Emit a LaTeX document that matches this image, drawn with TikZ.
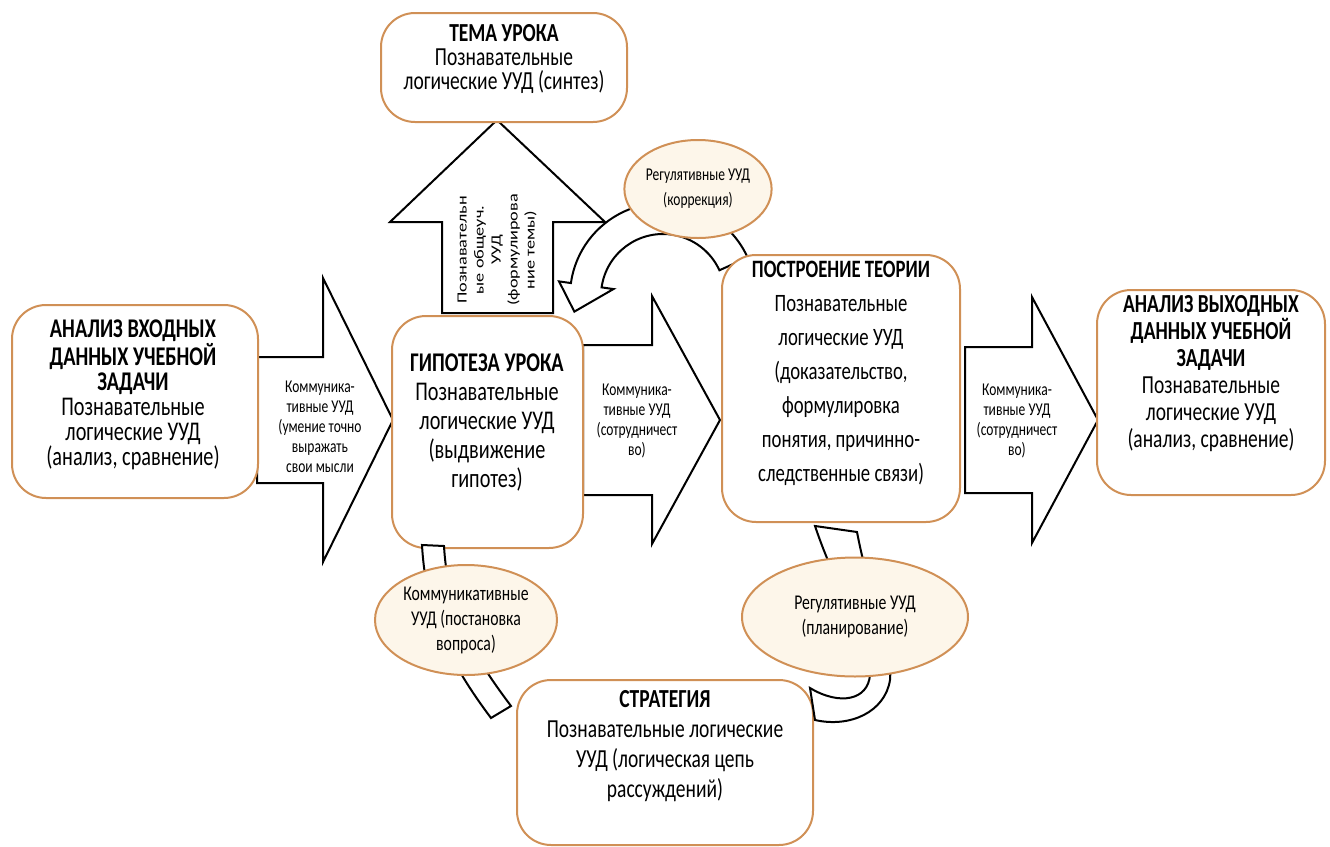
\documentclass[tikz,border=0pt]{standalone}
\usepackage{fontspec}
\setmainfont{Carlito}[FakeStretch=0.75]
\newfontfamily\widefont{Carlito}[FakeStretch=1.3]
\usetikzlibrary{shapes.geometric}
\definecolor{boxline}{RGB}{208,144,86}
\definecolor{ovalfill}{RGB}{253,246,234}
\tikzset{
    stagebox/.style={
        rectangle, rounded corners=17pt, draw=boxline, line width=1pt, fill=white
    },
    stagetext/.style={align=center, inner sep=0pt},
    udoval/.style={
        ellipse, draw=boxline, line width=1pt, fill=ovalfill, align=center, inner sep=0pt
    },
    blockarrow/.style={draw=black, line width=1pt, fill=white, line join=miter},
    arrowtext/.style={align=center, inner sep=0pt, font=\fontsize{9}{10}\selectfont},
}

\begin{document}
\begin{tikzpicture}[x=0.5pt, y=-0.5pt]
    \useasboundingbox (0,0) rectangle (1330,847);

    % Block arrows
    \draw[blockarrow] (257,357) -- (323,357) -- (323,278) -- (393,420) -- (323,562) -- (323,483) -- (257,483) -- cycle;
    \draw[blockarrow] (583,345) -- (652,345) -- (652,296) -- (720,420) -- (652,544) -- (652,495) -- (583,495) -- cycle;
    \draw[blockarrow] (965,347) -- (1032,347) -- (1032,297) -- (1098,420) -- (1032,543) -- (1032,493) -- (965,493) -- cycle;
    \draw[blockarrow] (442,313) -- (442,222) -- (390,222) -- (497,120) -- (605,222) -- (553,222) -- (553,313) -- cycle;

    % Curved arrow (correction)
    \coordinate (corrc) at (663,296);
    \draw[blockarrow] ([shift={(-24.5:93)}]corrc) arc[start angle=-24.5, end angle=-172, radius=93]
        -- ([shift={(-172:105)}]corrc) -- ([shift={(-190:90)}]corrc) -- ([shift={(-172:50)}]corrc)
        -- ([shift={(-172:62)}]corrc) arc[start angle=-172, end angle=-24.5, radius=62] -- cycle;

    % Arrow labels
    \node[arrowtext] (say) at (320,427) {Коммуника-\\тивные УУД\\(умение точно\\выражать\\свои мысли};
    \node[arrowtext] (coop1) at (637,421) {Коммуника-\\тивные УУД\\(сотрудничест\\во)};
    \node[arrowtext] (coop2) at (1017,421) {Коммуника-\\тивные УУД\\(сотрудничест\\во)};
    \node[rotate=90, align=center, inner sep=0pt, font=\widefont\fontsize{7}{8.5}\selectfont] (topicup) at (497,250)
        {Познавательн\\ые общеуч.\\УУД\\(формулирова\\ние темы)};

    % Stages
    \node[stagebox, minimum width=123pt, minimum height=96.5pt] (inbox) at (135,401.5) {};
    \node[stagebox, minimum width=123pt, minimum height=54.5pt] (topic) at (504,67.5) {};
    \node[stagebox, minimum width=95.5pt, minimum height=116pt] (hyp) at (487.5,432) {};
    \node[stagebox, minimum width=119pt, minimum height=133.5pt] (theory) at (841,388.5) {};
    \node[stagebox, minimum width=114pt, minimum height=102.5pt] (outbox) at (1211,392.5) {};
    \node[stagebox, minimum width=148pt, minimum height=82.5pt] (strategy) at (665,762.5) {};

    \node[stagetext, font=\fontsize{13.5}{12.5}\selectfont] (inbox-t) at (133,395)
        {\textbf{АНАЛИЗ ВХОДНЫХ}\\\textbf{ДАННЫХ УЧЕБНОЙ}\\\textbf{ЗАДАЧИ}\\Познавательные\\логические УУД\\(анализ, сравнение)};
    \node[stagetext, font=\fontsize{13}{12}\selectfont] (topic-t) at (504,59)
        {\textbf{ТЕМА УРОКА}\\Познавательные\\логические УУД (синтез)};
    \node[stagetext, font=\fontsize{13.5}{14.5}\selectfont] (hyp-t) at (487,423)
        {\textbf{ГИПОТЕЗА УРОКА}\\Познавательные\\логические УУД\\(выдвижение\\гипотез)};
    \node[stagetext, font=\fontsize{12.5}{17}\selectfont] (theory-t) at (841,373)
        {\textbf{ПОСТРОЕНИЕ ТЕОРИИ}\\Познавательные\\логические УУД\\(доказательство,\\формулировка\\понятия, причинно-\\следственные связи)};
    \node[stagetext, font=\fontsize{13}{13.5}\selectfont] (outbox-t) at (1211,374)
        {\textbf{АНАЛИЗ ВЫХОДНЫХ}\\\textbf{ДАННЫХ УЧЕБНОЙ}\\\textbf{ЗАДАЧИ}\\Познавательные\\логические УУД\\(анализ, сравнение)};
    \node[stagetext, font=\fontsize{13}{15}\selectfont] (strategy-t) at (665,746)
        {\textbf{СТРАТЕГИЯ}\\Познавательные логические\\УУД (логическая цепь\\рассуждений)};

    % Side bands
    \draw[blockarrow] (422,545) .. controls (426,617) and (452,666) .. (491,718) -- (511,706)
        .. controls (472,654) and (448,613) .. (444,546) -- cycle;
    \draw[blockarrow] (815,526) .. controls (840,600) and (872,640) .. (870,675)
        .. controls (868,700) and (840,706) .. (810,688) -- (815,720)
        .. controls (850,728) and (885,712) .. (890,680)
        .. controls (893,650) and (870,600) .. (857,532) -- cycle;

    % Ovals
    \node[udoval, minimum width=73pt, minimum height=49pt, font=\fontsize{9}{12.5}\selectfont] (corr) at (698,189)
        {Регулятивные УУД\\(коррекция)};
    \node[udoval, minimum width=91pt, minimum height=55pt, font=\fontsize{10.5}{12.5}\selectfont] (quest) at (466,620)
        {Коммуникативные\\УУД (постановка\\вопроса)};
    \node[udoval, minimum width=113pt, minimum height=59.5pt, font=\fontsize{10.5}{12.5}\selectfont] (plan) at (855,617)
        {Регулятивные УУД\\(планирование)};
\end{tikzpicture}
\end{document}
